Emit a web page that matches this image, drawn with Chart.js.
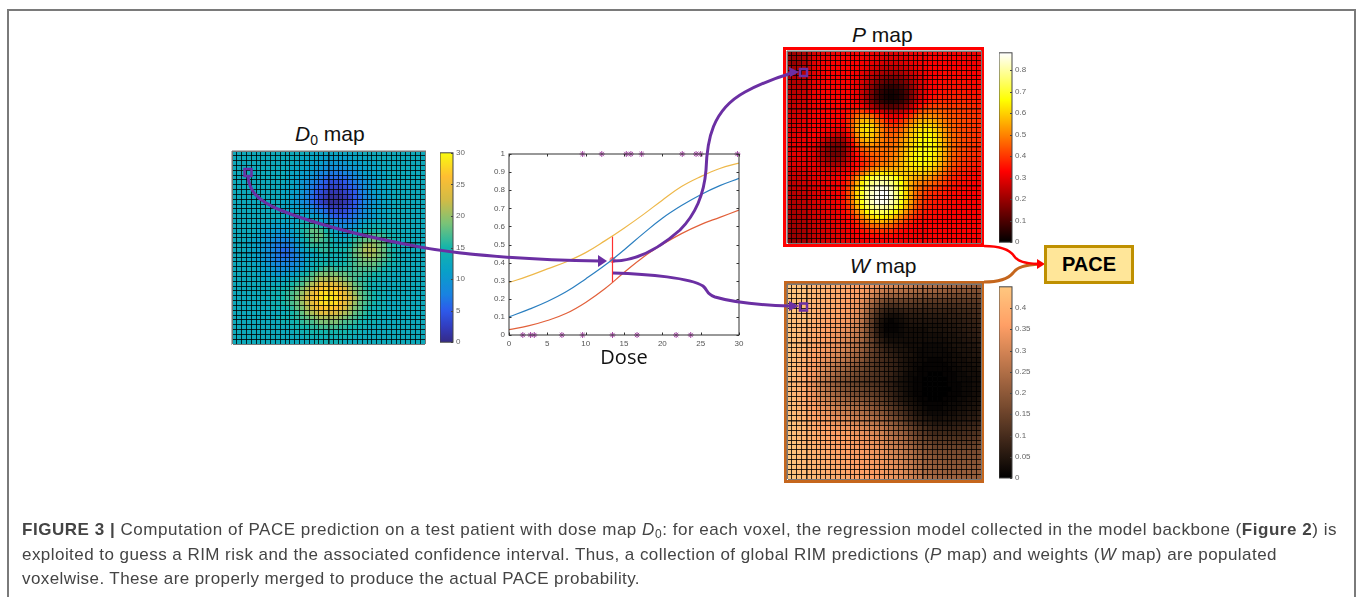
<!DOCTYPE html>
<html>
<head>
<meta charset="utf-8">
<title>PACE prediction</title>
<script src="https://cdn.jsdelivr.net/npm/chart.js@4/dist/chart.umd.min.js"></script>
<style>
  html, body { margin: 0; padding: 0; background: #fff; width: 1360px; height: 597px; overflow: hidden; }
  body { position: relative; font-family: "Liberation Sans", sans-serif; filter: blur(0.4px); }
  canvas { position: absolute; }
  .outer { position: absolute; left: 7px; top: 9px; width: 1349px; height: 620px; box-sizing: border-box; border: 2px solid #7a7a7a; }
  .frame { position: absolute; box-sizing: border-box; border-style: solid; border-width: 3px; }
  .title { position: absolute; font-size: 21px; color: #111; white-space: nowrap; line-height: 24px; }
  .title sub { font-size: 14px; line-height: 0; vertical-align: -4px; }
  .pace { position: absolute; left: 1044px; top: 245px; width: 90px; height: 39px; box-sizing: border-box; border: 3px solid #BF9000; background: #FFE699; font-weight: bold; font-size: 20px; text-align: center; line-height: 33px; color: #000; }
  .cap { position: absolute; left: 22px; white-space: nowrap; font-size: 17px; line-height: 20px; color: #444; }
  .cap sub { font-size: 12px; line-height: 0; vertical-align: -3px; }
  svg { position: absolute; left: 0; top: 0; }
</style>
</head>
<body>
<div class="outer"></div>

<div class="title" style="left:295px;top:122px"><i>D</i><sub>0</sub> map</div>
<div class="title" style="left:852px;top:23px"><i>P</i> map</div>
<div class="title" style="left:850px;top:254px"><i>W</i> map</div>

<div class="frame" style="left:783px;top:47px;width:201px;height:200px;border-color:#ff0000"></div>
<div class="frame" style="left:784px;top:281px;width:200px;height:202px;border-color:#C5661D"></div>

<canvas id="doseMapChart" width="195" height="195" style="left:231px;top:150px"></canvas>
<canvas id="doseBar" width="44" height="205" style="left:440px;top:145px"></canvas>
<canvas id="curveChart" width="266" height="226" style="left:484px;top:144px"></canvas>
<canvas id="pMapChart" width="196" height="194" style="left:786px;top:50px"></canvas>
<canvas id="pBar" width="44" height="205" style="left:999px;top:45px"></canvas>
<canvas id="wMapChart" width="196" height="197" style="left:786px;top:283px"></canvas>
<canvas id="wBar" width="44" height="207" style="left:999px;top:279px"></canvas>

<svg width="1360" height="597" fill="none">
  <path d="M984 282 C1000 282 1008 279 1013 273 C1017 267 1025 265 1040 264" stroke="#C5661D" stroke-width="3"/>
  <path d="M984 246 C1000 246 1010 250 1014 256 C1018 262 1025 263 1038 264" stroke="#ff0000" stroke-width="2.5"/>
  <polygon points="1045,264 1037,259 1037,269" fill="#ff0000"/>
  <g stroke="#6b2fa3" stroke-width="3">
    <path d="M248 176 C249 190 256 200 280 210 C310 222 350 234 420 247 C470 256 540 260 600 261"/>
    <path d="M613 261 C640 261 662 246 680 230 C696 214 704 195 706 170 C707 140 712 110 745 92 C760 84 775 78 792 73"/>
    <path d="M613 273 C650 274 690 278 703 286 C708 290 706 294 715 297 C735 303 760 305 790 306"/>
    <rect x="244.5" y="169" width="7" height="7" stroke-width="2.5"/>
    <rect x="800" y="69" width="7" height="7" stroke-width="2.5"/>
    <rect x="800" y="303.5" width="7" height="7" stroke-width="2.5"/>
  </g>
  <g fill="#6b2fa3">
    <polygon points="607,261 598,255 598,267"/>
    <polygon points="799,72 789,67 790,77"/>
    <polygon points="799,306 789,301 789,311"/>
  </g>
</svg>

<div class="pace">PACE</div>

<div class="cap" data-w="1315" style="top:520px"><b>FIGURE 3 |</b> Computation of PACE prediction on a test patient with dose map <i>D</i><sub>0</sub>: for each voxel, the regression model collected in the model backbone (<b>Figure 2</b>) is</div>
<div class="cap" data-w="1255" style="top:545px">exploited to guess a RIM risk and the associated confidence interval. Thus, a collection of global RIM predictions (<i>P</i> map) and weights (<i>W</i> map) are populated</div>
<div class="cap" data-w="618" style="top:569px">voxelwise. These are properly merged to produce the actual PACE probability.</div>

<script>
// dose map, Gy
const doseMap = [
[13,13,13,13,13,13,13,13,13,13,13,13,13,13,13,13,12,12,12,12,12,12,12,12,12,12,12,13,13,13,13,13,13,13,13,13,13,13,13,13],
[13,13,13,13,13,13,13,13,13,13,13,13,13,13,12,12,12,12,11,11,11,11,11,11,11,12,12,12,12,13,13,13,13,13,13,13,13,13,13,13],
[13,13,13,13,13,13,13,13,13,13,13,13,13,12,12,12,11,11,11,10,10,10,10,10,11,11,11,12,12,12,13,13,13,13,13,13,13,13,13,13],
[13,13,13,13,13,13,13,13,13,13,13,13,12,12,12,11,11,10,10,9,9,9,9,9,10,10,11,11,12,12,12,13,13,13,13,13,13,13,13,13],
[13,13,13,13,13,13,13,13,13,13,13,12,12,12,11,11,10,9,8,8,7,7,7,8,8,9,10,11,11,12,12,12,13,13,13,13,13,13,13,13],
[13,13,13,13,13,13,13,13,13,13,13,12,12,11,11,10,9,8,7,6,6,6,6,6,7,8,9,10,11,11,12,12,13,13,13,13,13,13,13,13],
[13,13,13,13,13,13,13,13,13,13,13,12,12,11,10,9,8,7,6,5,4,4,4,5,6,7,8,9,10,11,12,12,13,13,13,13,13,13,13,13],
[13,13,13,13,13,13,13,13,13,13,12,12,12,11,10,9,7,6,5,4,3,3,3,4,5,6,7,9,10,11,12,12,12,13,13,13,13,13,13,13],
[13,13,13,13,13,13,13,13,13,13,12,12,11,11,10,8,7,5,4,3,2,2,2,3,4,5,7,8,10,11,11,12,12,13,13,13,13,13,13,13],
[13,13,13,13,13,13,13,13,13,13,12,12,11,10,9,8,6,5,3,2,1,1,1,2,3,5,6,8,9,10,11,12,12,13,13,13,13,13,13,13],
[13,13,13,13,13,13,13,13,13,13,12,12,11,10,9,8,6,5,3,2,1,1,1,2,3,5,6,8,9,10,11,12,12,13,13,13,13,13,13,13],
[13,13,13,13,13,13,13,13,13,13,12,12,11,11,10,9,8,6,5,4,2,2,2,3,4,5,7,8,10,11,11,12,12,13,13,13,13,13,13,13],
[13,13,13,13,13,13,13,13,13,13,12,12,12,12,11,11,9,8,7,6,4,4,3,4,5,6,7,9,10,11,12,12,12,13,13,13,13,13,13,13],
[13,13,13,13,13,13,13,13,13,13,13,12,13,12,12,12,11,11,9,8,6,5,5,5,6,7,8,9,10,11,12,12,13,13,13,13,13,13,13,13],
[13,13,13,13,13,13,13,13,12,12,12,12,12,12,14,14,14,13,12,10,9,8,7,7,7,8,10,11,12,12,13,12,13,13,13,13,13,13,13,13],
[13,13,13,13,13,12,12,12,11,11,11,11,12,13,14,15,16,16,15,13,11,10,8,9,9,10,11,13,13,14,14,13,13,13,13,13,13,13,13,13],
[13,13,13,13,13,12,12,11,11,10,10,11,11,13,15,16,18,18,17,15,13,12,11,10,11,12,14,14,15,15,15,15,14,14,13,13,13,13,13,13],
[13,13,13,13,12,12,11,10,10,9,9,10,11,12,14,16,17,18,18,16,14,13,12,11,13,14,15,17,17,17,17,16,15,14,14,13,13,13,13,13],
[13,13,13,12,12,11,11,10,9,8,8,8,9,11,13,15,17,18,17,16,15,13,13,13,14,16,17,18,18,19,18,17,16,15,14,13,13,13,13,13],
[13,13,13,12,12,11,10,9,8,7,7,7,8,10,12,14,16,16,16,16,15,14,14,14,15,17,18,20,21,20,19,18,16,15,14,13,13,13,13,13],
[13,13,13,12,12,11,10,9,8,7,6,6,7,9,11,13,14,15,16,16,15,15,15,15,16,18,19,21,21,21,19,18,16,15,14,13,13,13,13,13],
[13,13,13,12,12,11,10,9,8,7,6,6,7,8,10,11,12,13,14,15,14,14,14,15,16,18,19,20,21,20,19,18,16,15,14,13,13,13,13,13],
[13,13,13,12,12,11,10,9,8,7,7,7,7,8,9,12,13,14,14,14,14,14,14,15,16,17,18,19,19,19,18,17,16,15,14,13,13,13,13,13],
[13,13,13,13,12,12,11,10,9,8,8,8,8,9,10,12,13,14,15,15,15,15,15,15,16,17,18,18,18,18,17,16,15,14,14,13,13,13,13,13],
[13,13,13,13,13,12,11,11,10,9,9,9,9,10,11,13,14,15,16,17,17,16,16,16,16,17,17,17,17,17,16,15,14,14,13,13,13,13,13,13],
[13,13,13,13,13,12,12,11,11,10,10,11,11,12,14,15,17,18,19,19,19,19,18,18,17,17,17,16,16,15,15,14,14,13,13,13,13,13,13,13],
[13,13,13,13,13,13,12,12,12,12,12,12,13,14,16,17,18,20,21,21,21,21,20,19,18,17,16,16,15,15,14,14,13,13,13,13,13,13,13,13],
[13,13,13,13,13,13,13,13,13,13,13,14,15,16,17,19,21,22,24,24,24,23,22,21,20,18,17,16,15,14,14,13,13,13,13,13,13,13,13,13],
[13,13,13,13,13,13,13,13,14,14,14,15,16,18,19,21,23,25,26,27,27,26,25,23,21,19,18,16,15,14,14,14,13,13,13,13,13,13,13,13],
[13,13,13,13,13,13,13,13,14,14,15,16,17,18,20,22,24,26,28,28,28,28,26,24,22,20,18,17,16,15,14,14,13,13,13,13,13,13,13,13],
[13,13,13,13,13,13,13,13,14,14,15,16,17,19,21,23,25,27,28,29,29,28,27,25,23,21,19,17,16,15,14,14,13,13,13,13,13,13,13,13],
[13,13,13,13,13,13,13,13,14,14,15,16,17,18,20,22,24,26,28,28,28,28,26,24,22,20,18,17,16,15,14,14,13,13,13,13,13,13,13,13],
[13,13,13,13,13,13,13,13,14,14,14,15,16,18,19,21,23,25,26,27,27,26,25,23,21,19,18,16,15,14,14,14,13,13,13,13,13,13,13,13],
[13,13,13,13,13,13,13,13,13,13,13,14,15,16,18,20,21,22,24,24,24,23,22,21,20,18,17,16,15,14,14,13,13,13,13,13,13,13,13,13],
[13,13,13,13,13,13,13,13,13,14,14,14,15,16,17,18,19,20,21,21,21,21,20,19,18,17,16,15,14,14,14,13,13,13,13,13,13,13,13,13],
[13,13,13,13,13,13,13,13,13,13,14,14,14,15,16,17,17,18,19,19,19,19,18,17,17,16,15,14,14,14,13,13,13,13,13,13,13,13,13,13],
[13,13,13,13,13,13,13,13,13,13,13,13,14,14,15,15,16,16,17,17,17,17,16,16,15,15,14,14,13,13,13,13,13,13,13,13,13,13,13,13],
[13,13,13,13,13,13,13,13,13,13,13,13,13,14,14,14,15,15,15,15,15,15,15,15,14,14,14,13,13,13,13,13,13,13,13,13,13,13,13,13],
[13,13,13,13,13,13,13,13,13,13,13,13,13,13,13,14,14,14,14,14,14,14,14,14,14,13,13,13,13,13,13,13,13,13,13,13,13,13,13,13],
[13,13,13,13,13,13,13,13,13,13,13,13,13,13,13,13,13,14,14,14,14,14,14,13,13,13,13,13,13,13,13,13,13,13,13,13,13,13,13,13]
];

// P map values in hundredths
const pMap = [
[20,21,22,23,26,28,29,30,30,31,31,32,32,32,32,32,32,31,30,30,29,29,29,30,30,31,31,32,32,32,32,32,32,32,32,32,32,31,31,31],
[20,20,21,23,26,29,30,31,31,32,32,33,33,33,32,32,31,31,30,29,29,28,29,29,30,31,31,32,32,33,33,33,33,33,33,33,32,32,31,31],
[20,20,21,23,26,29,31,32,32,33,33,33,33,33,33,32,31,30,29,28,27,27,27,28,29,30,31,32,33,33,33,33,33,33,33,33,33,32,32,32],
[21,21,22,23,26,29,31,32,33,33,33,33,33,33,32,31,30,28,27,25,25,24,25,25,27,28,30,31,32,33,33,33,33,33,33,33,33,33,32,32],
[22,22,22,24,27,29,31,32,33,33,33,33,33,33,31,30,28,26,24,22,21,21,21,22,24,26,28,30,31,32,33,33,34,34,34,34,34,33,33,33],
[22,23,23,25,27,30,31,32,33,33,33,33,33,32,31,29,26,24,21,18,17,16,17,18,21,24,26,29,31,32,33,34,34,34,34,34,34,34,33,33],
[23,23,24,25,28,30,31,32,33,33,33,33,33,32,30,28,25,21,17,14,12,11,12,14,17,21,25,28,30,32,33,34,34,35,35,35,35,34,34,34],
[23,24,24,26,28,30,32,33,33,33,33,33,33,32,30,27,23,18,13,9,7,6,7,9,13,18,23,27,30,32,33,34,35,35,35,35,35,35,34,34],
[24,24,25,26,28,31,32,33,33,33,33,33,33,32,30,26,22,16,10,6,4,3,4,6,10,16,22,27,30,32,33,35,35,36,36,36,36,35,35,35],
[24,25,25,27,29,31,32,33,33,33,33,33,33,32,30,26,21,15,9,5,3,2,3,5,9,16,22,27,31,33,35,36,36,37,37,37,37,36,36,35],
[25,25,26,27,29,31,32,33,33,33,33,33,33,32,30,27,22,16,11,7,5,4,5,7,11,17,24,29,33,36,37,38,38,38,38,38,38,37,37,36],
[25,26,27,28,30,31,32,33,33,33,33,33,33,34,34,32,28,23,18,14,12,11,12,14,18,24,30,35,38,40,41,41,41,40,40,40,40,39,38,37],
[26,27,27,29,30,32,33,33,33,33,33,33,34,38,40,41,38,34,30,26,24,22,22,24,27,32,37,42,45,46,46,45,44,43,42,41,40,40,39,38],
[27,27,28,29,31,32,33,33,33,33,33,33,36,41,46,49,49,46,41,36,32,30,30,32,35,40,45,49,51,51,50,48,46,44,43,42,41,40,40,39],
[27,28,28,30,31,32,33,33,33,33,33,33,37,44,51,56,57,54,48,43,38,35,35,38,42,47,52,55,56,56,54,51,48,46,44,43,42,41,40,39],
[28,28,29,30,31,33,33,33,33,33,32,33,37,46,54,60,62,59,53,47,43,40,40,43,47,53,57,60,61,60,58,54,50,47,45,43,42,41,40,39],
[28,29,29,30,32,33,33,33,32,31,30,30,35,44,54,60,62,60,55,49,45,43,43,46,51,56,60,62,63,63,60,56,52,48,45,43,42,41,40,39],
[29,29,30,31,32,33,32,31,29,27,25,26,31,41,51,58,60,58,54,49,46,45,46,49,53,58,61,64,65,65,62,58,53,49,46,44,42,41,40,39],
[29,30,30,31,32,32,30,27,24,21,20,21,27,37,47,54,57,56,52,49,47,46,47,51,55,59,62,65,66,66,63,59,54,50,46,44,42,41,40,39],
[29,30,30,31,31,30,27,24,20,17,16,18,24,33,43,49,52,52,50,48,47,47,48,52,56,60,63,66,67,67,64,60,55,50,46,44,42,41,40,39],
[29,30,30,31,31,29,26,22,18,15,15,17,23,30,38,44,47,48,48,47,47,47,49,53,57,61,64,66,67,67,64,60,55,50,46,43,42,40,39,38],
[29,30,30,30,30,29,25,21,18,15,15,17,23,29,35,40,43,45,46,46,47,48,50,54,58,62,65,67,67,66,63,59,54,49,45,43,41,40,39,38],
[28,29,30,30,30,29,26,23,20,18,18,20,25,29,34,38,41,43,45,46,47,49,51,55,59,63,65,66,66,65,62,58,53,48,44,42,40,39,38,37],
[28,29,29,30,30,30,28,25,23,22,22,24,27,31,34,37,40,43,46,48,49,51,53,56,59,62,64,65,65,63,60,56,51,47,43,41,39,38,37,36],
[27,28,28,29,30,30,29,28,27,26,27,28,30,33,36,40,44,48,51,53,54,54,55,57,59,61,62,62,62,60,57,53,48,44,41,39,38,37,36,35],
[26,27,27,28,29,30,30,30,29,29,30,31,33,37,42,48,54,59,62,63,63,62,60,59,59,59,59,59,58,56,53,49,45,42,39,37,36,35,34,34],
[25,26,26,27,28,29,30,30,30,31,32,33,36,42,50,58,65,70,73,74,73,71,67,63,60,57,55,54,53,51,48,45,42,39,37,36,35,34,34,33],
[25,25,26,27,28,29,30,30,31,31,32,34,38,46,55,64,72,77,80,81,80,77,72,66,60,55,51,49,47,46,44,42,40,38,36,35,34,34,33,33],
[24,25,25,26,27,28,29,30,30,31,32,35,40,49,59,68,76,81,85,86,85,81,75,68,61,54,49,46,44,42,41,39,37,36,35,34,34,33,33,33],
[24,24,25,26,27,28,29,30,30,31,32,35,41,50,60,69,78,83,86,88,88,84,77,69,61,54,48,44,41,39,38,37,36,35,34,34,33,33,33,33],
[23,24,24,25,27,28,29,30,30,31,32,35,41,50,60,70,78,84,87,88,88,85,78,70,61,54,47,43,40,38,37,36,35,35,34,34,33,33,33,33],
[23,23,24,25,26,28,29,30,30,31,32,35,40,49,59,68,77,82,86,87,86,82,76,68,60,53,46,42,39,37,36,35,35,34,34,33,33,33,33,33],
[22,23,23,25,26,27,28,29,30,30,32,34,38,46,55,64,72,77,80,81,80,77,71,64,57,50,44,40,38,36,35,35,34,34,33,33,33,33,33,33],
[22,22,23,24,26,27,28,29,30,30,31,33,36,42,50,58,65,70,73,74,73,69,64,58,52,46,41,38,36,35,34,34,34,33,33,33,33,33,33,33],
[21,22,22,24,25,27,28,29,29,30,31,32,34,38,44,51,57,61,64,65,64,61,56,51,46,41,38,36,35,34,34,33,33,33,33,33,33,33,33,33],
[21,21,22,23,25,26,27,28,29,30,30,31,33,35,39,44,49,53,55,56,55,52,48,44,40,37,35,34,34,33,33,33,33,33,33,33,33,33,33,33],
[20,21,21,23,24,26,27,28,29,29,30,31,32,33,36,39,42,45,46,47,46,44,41,38,36,34,33,33,33,33,33,33,33,33,33,33,33,33,33,33],
[20,20,21,22,24,25,27,28,28,29,30,30,31,32,33,35,37,38,39,39,39,38,36,34,33,33,32,32,32,33,33,33,33,33,33,33,33,33,33,33],
[19,20,20,22,23,25,26,27,28,29,29,30,31,31,32,33,33,34,34,35,34,34,33,32,32,32,32,32,32,32,33,33,33,33,33,33,33,33,33,32],
[19,19,20,21,23,25,26,27,28,28,29,30,30,31,31,31,32,32,32,32,32,32,32,31,31,31,31,32,32,32,32,32,32,33,33,33,33,32,32,32]
];

// W map values in hundredths
const wMap = [
[45,44,44,43,42,41,41,40,40,39,39,38,38,37,36,36,35,34,33,32,31,30,30,29,28,28,27,26,26,25,25,24,24,23,23,22,22,21,21,21],
[45,44,44,43,42,41,41,40,39,39,38,38,37,36,36,35,34,32,30,28,27,26,26,25,25,24,24,23,23,22,22,21,21,20,20,19,19,19,18,18],
[45,44,44,43,42,41,40,40,39,38,38,37,37,36,35,34,32,29,26,24,22,21,21,21,20,20,19,19,18,18,18,17,17,17,16,16,16,16,16,16],
[44,44,43,43,42,41,40,39,39,38,38,37,36,35,34,32,29,25,21,18,16,15,15,15,15,15,14,14,14,13,13,13,13,13,13,13,13,13,13,13],
[44,44,43,42,41,40,40,39,38,38,37,36,35,34,33,30,26,21,17,13,11,10,10,11,11,11,11,11,10,10,10,10,10,10,10,10,11,11,11,11],
[44,44,43,42,41,40,39,39,38,37,37,36,35,34,32,29,24,18,13,9,7,6,6,7,8,8,8,8,8,8,8,8,8,8,8,9,9,9,10,10],
[44,43,43,42,41,40,39,38,37,37,36,35,34,33,31,27,22,15,10,6,4,3,3,4,5,6,6,6,6,6,6,6,6,7,7,7,8,8,9,9],
[44,43,42,42,41,39,38,38,37,36,35,35,34,32,30,26,20,14,8,4,2,1,2,3,4,5,5,5,5,5,5,5,5,6,6,6,7,7,8,8],
[44,43,42,41,40,39,38,37,36,35,35,34,33,31,29,25,19,13,7,3,1,1,1,2,3,4,4,4,4,4,4,4,5,5,5,6,6,7,7,8],
[44,43,42,41,40,38,38,37,36,35,34,33,32,30,28,24,19,13,7,3,1,1,1,2,3,3,3,3,3,4,4,4,4,5,5,5,6,6,7,7],
[44,43,42,41,39,38,37,36,35,34,33,32,31,29,27,24,19,13,8,4,2,2,2,2,3,3,3,3,3,3,3,3,4,4,4,5,5,6,6,7],
[44,43,42,40,39,38,37,36,35,34,33,31,30,28,26,23,19,15,10,6,4,3,3,3,3,3,3,3,3,3,3,3,3,4,4,4,5,5,6,6],
[44,43,42,40,39,37,36,35,34,33,32,31,29,27,25,22,19,15,11,8,6,5,4,4,3,3,3,3,2,2,2,2,3,3,4,4,4,5,5,6],
[44,43,41,40,38,37,36,35,34,32,31,30,28,26,24,21,18,15,12,9,7,6,5,4,4,3,3,2,2,2,2,2,2,3,3,4,4,4,5,5],
[44,43,41,40,38,36,35,34,33,31,30,28,26,24,22,20,17,14,12,10,9,7,6,5,4,4,3,2,2,2,2,2,2,2,3,3,4,4,5,5],
[44,42,41,39,38,36,35,33,32,30,28,27,25,23,21,19,16,14,12,10,9,8,7,5,4,3,3,2,2,1,1,1,2,2,3,3,3,4,4,4],
[44,42,41,39,37,35,34,32,30,28,26,25,23,21,19,17,15,13,11,10,9,8,7,5,4,3,2,2,1,1,1,1,1,2,2,3,3,3,4,4],
[43,42,40,38,36,35,33,31,29,26,24,23,21,19,17,16,14,13,11,10,9,8,7,5,4,3,2,1,1,1,1,1,1,1,2,2,3,3,3,4],
[43,42,40,38,36,34,32,30,27,25,22,21,19,18,16,15,14,12,11,10,9,8,6,5,3,2,2,1,1,0,0,0,1,1,1,2,2,3,3,3],
[43,41,40,38,36,33,31,28,26,23,21,19,18,17,15,14,13,12,11,10,9,7,6,4,3,2,1,1,0,0,0,0,0,1,1,2,2,2,3,3],
[42,41,40,38,35,32,30,27,25,22,20,19,17,16,15,14,13,12,11,10,8,7,5,4,3,2,1,1,0,0,0,0,0,1,1,1,2,2,3,3],
[42,41,40,38,35,33,30,28,25,23,21,19,18,17,16,15,14,13,12,10,9,7,6,4,3,2,1,1,0,0,0,0,0,0,1,1,2,2,3,3],
[43,41,40,38,36,33,31,29,27,24,22,21,19,18,17,16,15,14,13,11,10,8,6,5,3,2,1,1,0,0,0,0,0,1,1,1,2,2,3,3],
[43,42,40,38,36,34,32,30,28,26,24,23,21,20,19,18,17,16,14,13,11,9,7,5,4,3,2,1,1,0,0,0,1,1,1,2,2,3,3,4],
[43,42,40,39,37,35,33,32,30,28,26,25,24,23,22,21,19,18,16,14,13,11,9,7,5,4,3,2,1,1,1,1,1,2,2,2,3,3,4,4],
[43,42,41,39,37,36,34,33,31,30,28,27,26,25,24,23,21,20,18,17,15,13,11,9,7,5,4,3,2,1,1,1,2,2,2,3,3,4,4,5],
[43,42,41,40,38,36,35,34,33,31,30,29,28,27,26,25,24,22,21,19,18,15,13,11,9,7,5,4,3,2,2,2,2,3,3,4,4,5,5,6],
[44,43,41,40,38,37,36,35,34,33,32,31,30,29,28,27,26,25,23,22,20,18,16,14,11,9,7,6,5,4,3,3,4,4,4,5,5,6,6,7],
[44,43,42,40,39,38,37,36,35,34,33,33,32,31,30,29,28,27,26,24,23,21,19,17,14,12,10,8,7,6,5,5,5,5,6,6,7,7,8,8],
[44,43,42,41,39,38,37,37,36,35,34,34,33,33,32,31,30,29,28,27,25,23,21,19,17,15,13,11,10,8,7,7,7,7,7,8,8,9,9,10],
[44,43,42,41,40,39,38,37,37,36,36,35,35,34,33,33,32,31,30,29,27,25,23,22,20,17,15,13,12,10,9,9,9,9,9,9,10,10,11,11],
[44,43,42,41,40,39,38,38,37,37,36,36,35,35,34,33,33,32,31,30,28,27,25,24,22,19,17,15,14,12,11,11,11,11,11,11,11,12,12,13],
[44,44,43,41,40,39,39,38,37,37,36,36,35,35,34,34,33,33,32,31,30,28,27,25,23,21,19,17,16,15,13,13,13,13,13,13,13,13,14,14],
[45,44,43,42,41,40,39,38,38,37,36,36,36,35,35,34,34,33,33,32,31,29,28,27,25,23,21,19,18,17,15,15,15,15,15,15,15,15,15,16],
[45,44,43,42,41,40,39,39,38,37,37,36,36,35,35,35,34,34,33,33,32,30,29,28,26,25,23,21,20,18,17,17,17,17,17,17,17,17,17,17],
[45,44,43,42,41,40,40,39,38,38,37,37,36,36,35,35,35,34,34,33,33,31,30,29,27,26,24,23,21,20,19,18,18,18,18,18,18,18,18,18],
[45,44,43,42,41,41,40,39,39,38,37,37,37,36,36,35,35,35,34,34,33,32,31,30,28,27,25,24,22,21,20,20,19,19,19,19,19,19,19,19],
[45,44,43,42,42,41,40,40,39,38,38,37,37,37,36,36,35,35,35,34,34,33,32,31,29,28,26,25,23,22,21,21,20,20,20,20,20,20,20,20],
[45,44,43,43,42,41,41,40,39,39,38,38,37,37,37,36,36,35,35,35,34,33,33,32,30,29,27,26,24,23,22,22,21,21,21,21,21,21,21,21],
[45,45,44,43,42,42,41,40,40,39,39,38,38,37,37,37,36,36,35,35,35,34,33,32,31,29,28,27,25,24,23,22,22,22,22,22,21,21,21,21]
];

// thicker grid lines per map
const doseThickCols = [20];
const doseThickRows = [19, 21];
const pwThickCols = [4, 28];
const pwThickRows = [12, 20, 28];

// colorbars
const doseTicks = [0, 5, 10, 15, 20, 25, 30];
const pTicks = [0, 0.1, 0.2, 0.3, 0.4, 0.5, 0.6, 0.7, 0.8];
const wTicks = [0, 0.05, 0.1, 0.15, 0.2, 0.25, 0.3, 0.35, 0.4];

const parulaStops = [[0, 53, 42, 135], [0.08, 50, 60, 190], [0.167, 45, 90, 235], [0.25, 25, 130, 225], [0.375, 8, 160, 200], [0.5, 20, 180, 170], [0.625, 120, 195, 120], [0.75, 209, 187, 70], [0.875, 254, 190, 50], [1, 249, 251, 14]];
const hotStops = [[0, 0, 0, 0], [0.375, 255, 0, 0], [0.75, 255, 255, 0], [1, 255, 255, 255]];
const copperStops = [[0, 0, 0, 0], [0.8, 255, 159, 101], [1, 255, 199, 127]];

// dose-response panel
const doses = [0, 2.5, 5, 7.5, 10, 12.5, 15, 17.5, 20, 22.5, 25, 27.5, 30];
const meanCurve = [0.10, 0.14, 0.185, 0.24, 0.31, 0.385, 0.47, 0.56, 0.645, 0.715, 0.775, 0.825, 0.865];
const lowerCurve = [0.03, 0.05, 0.08, 0.12, 0.18, 0.255, 0.345, 0.43, 0.50, 0.56, 0.61, 0.65, 0.69];
const upperCurve = [0.29, 0.325, 0.365, 0.405, 0.455, 0.52, 0.59, 0.665, 0.745, 0.82, 0.875, 0.92, 0.95];
const eventDoses = [9.6, 12.1, 15.3, 15.9, 17.3, 22.6, 24.4, 25, 29.8];
const noEventDoses = [1.8, 2.8, 3.3, 6.9, 9.6, 13.5, 16.7, 21.8, 23.7];
const queryDose = 13.5;
const queryRisk = 0.415;
const queryLow = 0.29;
const queryHigh = 0.545;

Chart.defaults.animation = false;
Chart.defaults.font.family = '"Liberation Sans", sans-serif';

function colorAt(stops, t) {
  t = Math.min(1, Math.max(0, t));
  for (let i = 1; i < stops.length; i++) {
    if (t <= stops[i][0]) {
      const a = stops[i - 1], b = stops[i];
      const k = (t - a[0]) / (b[0] - a[0]);
      return `rgb(${a[1] + (b[1] - a[1]) * k},${a[2] + (b[2] - a[2]) * k},${a[3] + (b[3] - a[3]) * k})`;
    }
  }
  return 'rgb(255,255,255)';
}

function gridAxis(reverse, thick, fit) {
  const n = doseMap.length;
  return {
    type: 'linear', min: 0, max: n, reverse: reverse,
    ticks: { display: false, stepSize: 1, autoSkip: false },
    grid: {
      z: 1, drawTicks: false,
      color: ctx => (ctx.tick.value === 0 || ctx.tick.value === n) ? '#777' : 'rgba(0,0,0,0.8)',
      lineWidth: ctx => thick.includes(ctx.tick.value) ? 1.6 : 1
    },
    border: { color: '#777' },
    afterFit: fit
  };
}

function heatmap(id, matrix, scale, stops, maxValue, thickCols, thickRows) {
  const cells = [];
  matrix.forEach((row, r) => row.forEach((v, c) => cells.push({ x: c + 0.5, y: r + 0.5, v: v * scale })));
  return new Chart(document.getElementById(id), {
    type: 'scatter',
    data: { datasets: [{
      data: cells,
      pointStyle: 'rect',
      borderWidth: 0,
      pointRadius: ctx => ctx.chart.chartArea ? ctx.chart.chartArea.width / matrix.length / Math.SQRT2 + 0.3 : 3,
      backgroundColor: ctx => ctx.raw ? colorAt(stops, ctx.raw.v / maxValue) : '#000'
    }] },
    options: {
      responsive: false,
      layout: { padding: 1, autoPadding: false },
      plugins: { legend: { display: false }, tooltip: { enabled: false } },
      scales: {
        x: gridAxis(false, thickCols, s => { s.height = 0; }),
        y: gridAxis(true, thickRows, s => { s.width = 0; })
      }
    }
  });
}

// MATLAB style inward tick marks
const innerTicks = {
  id: 'innerTicks',
  afterDatasetsDraw(chart, args, opts) {
    const { ctx, chartArea: a } = chart;
    ctx.save();
    ctx.strokeStyle = opts.color;
    ctx.lineWidth = 1;
    ctx.strokeRect(a.left, a.top, a.right - a.left, a.bottom - a.top);
    ctx.beginPath();
    chart.scales.y.ticks.forEach(t => {
      const y = Math.round(chart.scales.y.getPixelForValue(t.value)) + 0.5;
      ctx.moveTo(a.right, y); ctx.lineTo(a.right - opts.len, y);
      if (opts.both) { ctx.moveTo(a.left, y); ctx.lineTo(a.left + opts.len, y); }
    });
    if (opts.both) {
      chart.scales.x.ticks.forEach(t => {
        const x = Math.round(chart.scales.x.getPixelForValue(t.value)) + 0.5;
        ctx.moveTo(x, a.bottom); ctx.lineTo(x, a.bottom - opts.len);
        ctx.moveTo(x, a.top); ctx.lineTo(x, a.top + opts.len);
      });
    }
    ctx.stroke();
    ctx.restore();
  }
};

function colorbar(id, stops, maxValue, tickList, padTop, padBottom) {
  return new Chart(document.getElementById(id), {
    type: 'bar',
    data: { labels: [''], datasets: [{
      data: [[0, maxValue]],
      barPercentage: 1, categoryPercentage: 1,
      backgroundColor: ctx => {
        const a = ctx.chart.chartArea;
        if (!a) return '#888';
        const g = ctx.chart.ctx.createLinearGradient(0, a.bottom, 0, a.top);
        for (let i = 0; i <= 64; i++) g.addColorStop(i / 64, colorAt(stops, i / 64));
        return g;
      }
    }] },
    plugins: [innerTicks],
    options: {
      responsive: false,
      layout: { padding: { top: padTop, bottom: padBottom, left: 0, right: 0 } },
      plugins: { legend: { display: false }, tooltip: { enabled: false }, innerTicks: { color: '#444', len: 2, both: false } },
      scales: {
        x: { display: true, ticks: { display: false }, grid: { display: false }, border: { display: false }, afterFit: s => { s.height = 0; } },
        y: {
          position: 'right', min: 0, max: maxValue,
          afterBuildTicks: s => { s.ticks = tickList.map(v => ({ value: v })); },
          afterFit: s => { s.width = 31; },
          grid: { display: false, drawTicks: false, tickLength: 0 }, border: { display: false },
          ticks: { autoSkip: false, padding: 3, color: '#666', font: { size: 8 }, callback: v => String(v) }
        }
      }
    }
  });
}

heatmap('doseMapChart', doseMap, 1, parulaStops, 30, doseThickCols, doseThickRows);
heatmap('pMapChart', pMap, 0.01, hotStops, 0.88, pwThickCols, pwThickRows);
heatmap('wMapChart', wMap, 0.01, copperStops, 0.45, pwThickCols, pwThickRows);

colorbar('doseBar', parulaStops, 30, doseTicks, 6, 7);
colorbar('pBar', hotStops, 0.88, pTicks, 6, 7);
colorbar('wBar', copperStops, 0.45, wTicks, 5, 8);

const curve = (values, color) => ({
  data: doses.map((d, i) => ({ x: d, y: values[i] })),
  borderColor: color, borderWidth: 1.2, pointRadius: 0, tension: 0.4, showLine: true
});
const stars = (xs, y) => ({
  data: xs.map(x => ({ x: x, y: y })),
  showLine: false, pointStyle: 'star', pointRadius: 3, borderWidth: 1, borderColor: '#a64ca6', clip: false
});

new Chart(document.getElementById('curveChart'), {
  type: 'scatter',
  data: { datasets: [
    curve(meanCurve, '#2b7fc0'),
    curve(lowerCurve, '#e2603a'),
    curve(upperCurve, '#eeb84a'),
    stars(eventDoses, 1),
    stars(noEventDoses, 0),
    { data: [{ x: queryDose, y: queryLow }, { x: queryDose, y: queryHigh }], showLine: true, borderColor: '#ff3030', borderWidth: 1.2, pointRadius: 0 },
    { data: [{ x: queryDose, y: queryRisk }], pointRadius: 3, backgroundColor: 'rgba(255,40,40,0.6)', borderWidth: 0 }
  ] },
  plugins: [innerTicks],
  options: {
    responsive: false,
    layout: { padding: { top: 10, right: 11, left: 0, bottom: 0 }, autoPadding: false },
    plugins: { legend: { display: false }, tooltip: { enabled: false }, innerTicks: { color: '#333', len: 2.5, both: true } },
    scales: {
      x: {
        min: 0, max: 30,
        ticks: { stepSize: 5, padding: 4, color: '#555', font: { size: 8 } },
        grid: { display: false, drawTicks: false, tickLength: 0 }, border: { display: false },
        title: { display: true, text: 'Dose', color: '#111', font: { family: '"Open Sans"', size: 20 }, padding: 0 },
        afterFit: s => { s.height = 35; }
      },
      y: {
        min: 0, max: 1,
        ticks: { stepSize: 0.1, padding: 4, color: '#555', font: { size: 8 }, callback: v => String(+v.toFixed(1)) },
        grid: { display: false, drawTicks: false, tickLength: 0 }, border: { display: false },
        afterFit: s => { s.width = 25; }
      }
    }
  }
});

// stretch the caption lines to the measured widths
document.querySelectorAll('.cap').forEach(el => {
  const extra = +el.dataset.w - el.getBoundingClientRect().width;
  el.style.letterSpacing = (extra / el.textContent.length) + 'px';
});
</script>
</body>
</html>
